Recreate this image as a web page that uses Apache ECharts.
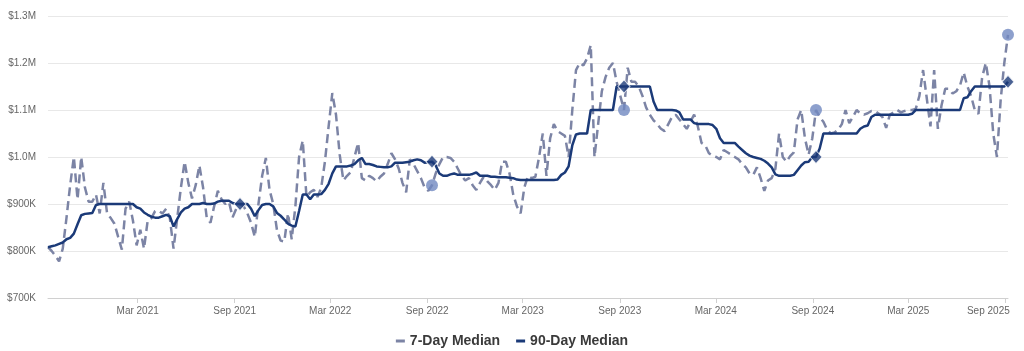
<!DOCTYPE html>
<html>
<head>
<meta charset="utf-8">
<script src="https://cdn.jsdelivr.net/npm/echarts@6/dist/echarts.min.js"></script>
<style>
  html, body { margin: 0; padding: 0; background: #fff; }
  #chart { width: 1024px; height: 351px; }
</style>
</head>
<body>
<div id="chart"></div>
<script>
// weekly samples, first week ending 2020-09-12, values in $K
var startDate = Date.UTC(2020, 8, 12);

var median7 = [
  808, 800, 790, 778, 805, 870, 940, 1000, 910, 1000,
  935, 905, 905, 920, 880, 945, 880, 870, 858, 830,
  803, 890, 905, 865, 812, 845, 805, 865, 870, 885,
  885, 880, 890, 870, 805, 870, 935, 990, 945, 912,
  940, 982, 935, 870, 860, 895, 928, 910, 900, 905,
  872, 890, 900, 895, 880, 860, 830, 900, 960, 998,
  930, 900, 845, 822, 820, 880, 825, 895, 1000, 1035,
  915, 925, 930, 915, 935, 990, 1065, 1136, 1090, 1005,
  950, 960, 968, 1000, 1030, 955, 950, 960, 955, 948,
  958, 965, 985, 1008, 995, 975, 945, 925, 995, 985,
  970, 955, 935, 928, 940, 965, 985, 1000, 1000, 998,
  990, 975, 960, 950, 955, 940, 930, 945, 958, 948,
  940, 930, 945, 990, 990, 965, 920, 895, 880, 935,
  960, 955, 958, 1000, 1050, 960, 1040, 1070, 1055, 1050,
  1045, 1000, 1100, 1185, 1200, 1195, 1210, 1238, 1000, 1070,
  1140, 1170, 1190, 1200, 1160, 1130, 1100, 1190, 1160, 1160,
  1150, 1130, 1105, 1090, 1078, 1070, 1060, 1055, 1070, 1085,
  1090, 1080, 1070, 1060, 1075, 1090, 1065, 1030, 1025, 1008,
  1003, 1000, 995, 1015, 1010, 1005, 1000, 995, 985, 978,
  965, 962, 978, 955, 928, 950, 955, 975, 1050, 1000,
  990, 1002, 1010, 1080, 1100, 1040, 1005, 1040, 1100, 1085,
  1075, 1058, 1050, 1052, 1058, 1070, 1100, 1072, 1085, 1100,
  1092, 1090, 1093, 1098, 1098, 1092, 1085, 1062, 1090, 1095,
  1100, 1095, 1098, 1100, 1100, 1102, 1130, 1185, 1125, 1065,
  1185, 1060, 1110, 1145, 1145, 1135, 1140, 1152, 1180, 1150,
  1130, 1100, 1092, 1170, 1200, 1150, 1050, 1000, 1120, 1200,
  1260
];

var median90 = [
  808, 810, 812, 815, 818, 825, 828, 837, 857, 876,
  879, 880, 881, 898, 900, 900, 900, 900, 900, 900,
  900, 900, 900, 900, 893, 890, 882, 877, 873, 871,
  871, 874, 877, 874, 852, 868, 882, 890, 893, 900,
  900, 900, 902, 900, 900, 901, 905, 907, 907, 907,
  902, 900, 900, 900, 900, 890, 874, 887, 898, 900,
  900, 895, 881, 875, 867, 858, 854, 852, 885, 920,
  920, 910, 920, 920, 921, 930, 943, 965, 980, 980,
  980, 980, 982, 985, 993, 998, 985, 985, 983, 980,
  979, 978, 978, 980, 988, 988, 988, 989, 990, 993,
  995, 993, 988, 989, 990, 982, 965, 960, 960, 963,
  965, 962, 962, 962, 962, 964, 967, 960, 960, 960,
  958, 958, 957, 957, 957, 956, 955, 952, 951, 951,
  951, 951, 951, 951, 951, 951, 951, 951, 952, 962,
  967, 980, 1025, 1048, 1050, 1050, 1050, 1100, 1100, 1100,
  1100, 1100, 1100, 1100, 1150, 1150, 1150, 1150, 1150, 1150,
  1150, 1150, 1150, 1150, 1118, 1100, 1100, 1100, 1100, 1100,
  1099, 1095, 1080, 1080, 1080, 1072, 1070, 1070, 1070, 1070,
  1068, 1060, 1040, 1030, 1030, 1030, 1030, 1022, 1015, 1008,
  1003, 1000, 998, 996, 992, 986, 978, 963, 960, 960,
  960, 960, 962, 972, 982, 989, 990, 1000, 1000, 1018,
  1050, 1050, 1050, 1050, 1050, 1050, 1050, 1050, 1050, 1050,
  1060, 1065, 1067, 1085, 1090, 1090, 1090, 1090, 1090, 1090,
  1090, 1090, 1090, 1090, 1092, 1100, 1100, 1100, 1100, 1100,
  1100, 1100, 1100, 1100, 1100, 1100, 1100, 1100, 1125, 1127,
  1140, 1150, 1150, 1150, 1150, 1150, 1150, 1150, 1150, 1150,
  1160
];

// yearly highlight points (week index)
var circleWeeks = [104, 156, 208, 260];
var diamondWeeks = [52, 104, 156, 208, 260];

var tickDates = ['2021-03-01', '2021-09-01', '2022-03-01', '2022-09-01', '2023-03-01',
  '2023-09-01', '2024-03-01', '2024-09-01', '2025-03-01', '2025-09-01'];
var tickLabels = ['Mar 2021', 'Sep 2021', 'Mar 2022', 'Sep 2022', 'Mar 2023',
  'Sep 2023', 'Mar 2024', 'Sep 2024', 'Mar 2025', 'Sep 2025'];

var WEEK = 7 * 24 * 3600 * 1000;
var weeks = median7.map(function (v, i) { return startDate + i * WEEK; });
var tickTimes = tickDates.map(function (d) { return Date.parse(d + 'T00:00:00Z'); });

var dark = '#1b3a78';
var grey = '#7c84a5';
var light = '#7088c0';

var chart = echarts.init(document.getElementById('chart'));
chart.setOption({
  animation: false,
  grid: { left: 48, right: 16, top: 16, bottom: 53 },
  legend: {
    data: ['7-Day Median', '90-Day Median'],
    left: 'center',
    top: 329,
    icon: 'rect',
    itemWidth: 9,
    itemHeight: 3,
    itemGap: 16,
    textStyle: { fontFamily: 'Liberation Sans, Arial, sans-serif', fontSize: 14, fontWeight: 'bold', color: '#3a3a3a' }
  },
  xAxis: {
    type: 'value',
    min: weeks[0],
    max: weeks[weeks.length - 1],
    axisLine: { lineStyle: { color: '#d0d0d0' } },
    axisTick: { show: true, length: 5, lineStyle: { color: '#d0d0d0' }, customValues: tickTimes },
    splitLine: { show: false },
    axisLabel: {
      customValues: tickTimes,
      color: '#666',
      fontSize: 10,
      fontFamily: 'Liberation Sans, Arial, sans-serif',
      margin: 8,
      formatter: function (val) {
        var best = 0;
        for (var i = 1; i < tickTimes.length; i++) {
          if (Math.abs(tickTimes[i] - val) < Math.abs(tickTimes[best] - val)) best = i;
        }
        if (best === tickTimes.length - 1) return '{r|' + tickLabels[best] + '}';
        return tickLabels[best];
      },
      rich: { r: { padding: [0, 34, 0, 0], fontSize: 10, color: '#666' } }
    }
  },
  yAxis: {
    type: 'value',
    min: 700000,
    max: 1300000,
    interval: 100000,
    axisLine: { show: false },
    axisTick: { show: false },
    splitLine: { lineStyle: { color: '#e8e8e8' } },
    axisLabel: {
      color: '#666',
      fontSize: 10,
      fontFamily: 'Liberation Sans, Arial, sans-serif',
      margin: 12,
      formatter: function (v) {
        if (v >= 1000000) return '$' + (v / 1000000).toFixed(1) + 'M';
        return '$' + (v / 1000) + 'K';
      }
    }
  },
  series: [
    {
      name: '7-Day Median',
      type: 'line',
      data: weeks.map(function (t, i) { return [t, median7[i] * 1000]; }),
      showSymbol: false,
      symbol: 'none',
      color: grey,
      lineStyle: { color: grey, width: 2.5, type: [9, 5] },
      z: 2
    },
    {
      name: '90-Day Median',
      type: 'line',
      data: weeks.map(function (t, i) { return [t, median90[i] * 1000]; }),
      showSymbol: false,
      symbol: 'none',
      color: dark,
      lineStyle: { color: dark, width: 2.5 },
      z: 3
    },
    {
      name: '7-Day points',
      type: 'scatter',
      data: circleWeeks.map(function (i) { return [weeks[i], median7[i] * 1000]; }),
      symbol: 'circle',
      symbolSize: 12,
      itemStyle: { color: light },
      z: 4
    },
    {
      name: '90-Day points',
      type: 'scatter',
      data: diamondWeeks.map(function (i) { return [weeks[i], median90[i] * 1000]; }),
      symbol: 'diamond',
      symbolSize: [12, 13],
      itemStyle: { color: dark, borderColor: '#fff', borderWidth: 1 },
      z: 5
    }
  ]
});
</script>
</body>
</html>
